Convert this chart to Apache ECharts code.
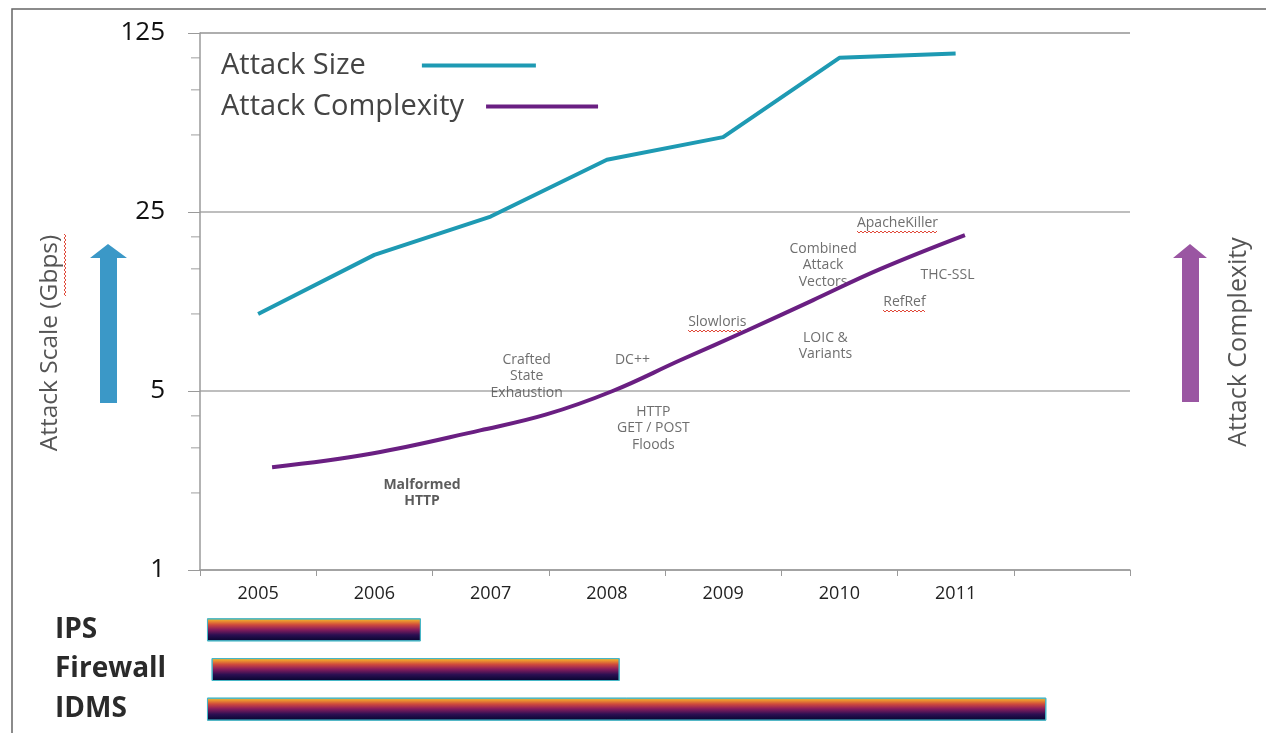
<!DOCTYPE html>
<html>
<head>
<meta charset="utf-8">
<title>Attack Size and Complexity</title>
<script src="https://cdn.jsdelivr.net/npm/echarts@6/dist/echarts.min.js"></script>
<style>
  html, body { margin: 0; padding: 0; background: #ffffff; }
  #chart { width: 1266px; height: 733px; }
</style>
</head>
<body>
<div id="chart"></div>
<script>
// Years on the category axis (last band is left empty)
const years = ['2005', '2006', '2007', '2008', '2009', '2010', '2011', ''];
// Attack size per year, Gbps
const attackSizeGbps = [10, 17, 24, 40, 49, 100, 104];
// Attack complexity curve, position in years and level on the same log scale
const complexityYear = [2005.12, 2005.98, 2006.91, 2007.48, 2008.05, 2008.63, 2009.21, 2009.77, 2010.35, 2011.08];
const complexityLevel = [2.52, 2.85, 3.51, 4.05, 5.0, 6.59, 8.63, 11.3, 14.95, 20.3];
// Labelled attack techniques along the complexity curve
const attackNames = ['Malformed\nHTTP', 'Crafted\nState\nExhaustion', 'DC++', 'HTTP\nGET / POST\nFloods', 'Slowloris',
  'Combined\nAttack\nVectors', 'LOIC &\nVariants', 'ApacheKiller', 'THC-SSL', 'RefRef'];
const attackYear = [2006.41, 2007.31, 2008.22, 2008.40, 2008.95, 2009.86, 2009.88, 2010.50, 2010.93, 2010.56];
const attackLevel = [2.0, 5.71, 6.59, 3.57, 9.28, 15.5, 7.48, 22.6, 14.2, 11.1];
const misspelledFlags = [false, false, false, false, true, false, false, true, false, true];
// Y axis: major ticks (base 5) and minor ticks
const yTicks = [1, 5, 25, 125];
const yMinorTicks = [2, 3, 4, 10, 15, 20, 50, 75, 100];
// Defence tools and the years they cover
const tools = ['IPS', 'Firewall', 'IDMS'];
const toolStart = [2004.56, 2004.60, 2004.56];
const toolEnd = [2006.40, 2008.11, 2011.78];

const TEAL = '#1e9ab3';
const PURPLE = '#6a1f82';
const FONT = '"Open Sans", Lato, sans-serif';
const X_MIN = 2004.5, X_MAX = 2004.5 + years.length;

const chart = echarts.init(document.getElementById('chart'), null, { renderer: 'canvas' });

const toolGradient = new echarts.graphic.LinearGradient(0, 0, 0, 1, [
  { offset: 0.0, color: '#a6c25a' },
  { offset: 0.1, color: '#ee9a2e' },
  { offset: 0.28, color: '#cf4a3c' },
  { offset: 0.48, color: '#8c1e5c' },
  { offset: 0.72, color: '#2c0f52' },
  { offset: 1.0, color: '#03052e' }
]);

// One legend per series so each sample line sits at its own distance from the text
function legendFor(name, top, gap, iconWidth) {
  return {
    data: [name], left: 216, top: top, orient: 'vertical', align: 'right',
    icon: 'rect', itemWidth: iconWidth, itemHeight: 4, selectedMode: false,
    textStyle: { color: '#444', fontFamily: FONT, fontSize: 29, padding: [0, gap, 0, 0] }
  };
}

const option = {
  backgroundColor: '#ffffff',
  animation: false,
  textStyle: { fontFamily: FONT },
  grid: [
    { left: 200, right: 136, top: 33, bottom: 163, containLabel: false },
    { left: 200, right: 136, top: 610, bottom: 4, containLabel: false }
  ],
  legend: [
    legendFor('Attack Size', 46, 51, 114),
    legendFor('Attack Complexity', 87, 17, 112)
  ],
  xAxis: [
    {
      type: 'category', gridIndex: 0, data: years, boundaryGap: true,
      axisLine: { lineStyle: { color: '#9a9a9a', width: 1.5 } },
      axisTick: { show: true, interval: 0, length: 6, lineStyle: { color: '#9a9a9a' } },
      axisLabel: { fontSize: 18, color: '#222', margin: 15, fontFamily: FONT },
      splitLine: { show: false }
    },
    { type: 'value', gridIndex: 0, min: X_MIN, max: X_MAX, show: false },
    { type: 'value', gridIndex: 1, min: X_MIN, max: X_MAX, show: false }
  ],
  yAxis: [
    {
      type: 'log', logBase: 5, gridIndex: 0, min: yTicks[0], max: yTicks[yTicks.length - 1], interval: 1,
      axisLine: { show: true, lineStyle: { color: '#9a9a9a', width: 1.5 } },
      axisTick: { show: true, length: 12, lineStyle: { color: '#9a9a9a' } },
      axisLabel: { fontSize: 26, color: '#111', margin: 35, fontFamily: FONT },
      splitLine: { show: true, lineStyle: { color: '#a8a8a8', width: 1.5 } }
    },
    {
      type: 'category', gridIndex: 1, data: tools, inverse: true,
      axisLine: { show: false }, axisTick: { show: false },
      axisLabel: {
        fontSize: 28, fontWeight: 'bold', color: '#2a2a2a', align: 'left', margin: 145, fontFamily: FONT
      }
    }
  ],
  series: [
    {
      name: 'Attack Size', type: 'line', xAxisIndex: 0, yAxisIndex: 0,
      data: attackSizeGbps, symbol: 'none', smooth: false,
      lineStyle: { color: TEAL, width: 4 }, itemStyle: { color: TEAL }
    },
    {
      name: 'Attack Complexity', type: 'line', xAxisIndex: 1, yAxisIndex: 0,
      data: complexityYear.map((x, i) => [x, complexityLevel[i]]),
      symbol: 'none', smooth: 0.4,
      lineStyle: { color: PURPLE, width: 4 }, itemStyle: { color: PURPLE }
    },
    {
      name: 'minor ticks', type: 'scatter', xAxisIndex: 1, yAxisIndex: 0, clip: false, silent: true,
      data: yMinorTicks.map(v => [X_MIN, v]),
      symbol: 'rect', symbolSize: [9, 1.2], symbolOffset: [-4.5, 0],
      itemStyle: { color: '#9a9a9a' }
    },
    {
      name: 'attacks', type: 'scatter', xAxisIndex: 1, yAxisIndex: 0, clip: false, silent: true,
      data: attackNames.map((n, i) => ({
        value: [attackYear[i], attackLevel[i]],
        name: n,
        label: {
          fontWeight: i === 0 ? 'bold' : 'normal',
          color: i === 0 ? '#333' : '#4a4a4a'
        }
      })),
      symbolSize: 0,
      label: {
        show: true, position: 'inside', formatter: p => p.name,
        fontSize: 14, lineHeight: 16.5, align: 'center', verticalAlign: 'middle',
        color: '#4a4a4a', fontFamily: FONT
      }
    },
    {
      name: 'tool start', type: 'bar', xAxisIndex: 2, yAxisIndex: 1, stack: 'tools',
      data: toolStart, barWidth: 23, silent: true,
      itemStyle: { color: 'rgba(0,0,0,0)' }
    },
    {
      name: 'tool coverage', type: 'bar', xAxisIndex: 2, yAxisIndex: 1, stack: 'tools',
      data: toolEnd.map((e, i) => e - toolStart[i]), barWidth: 23, silent: true,
      itemStyle: { color: toolGradient, borderColor: '#45b6c6', borderWidth: 1 }
    }
  ]
};

chart.setOption(option);

// Decorations: frame, side arrows, side titles, spell-check squiggles
function zigzag(x0, x1, y) {
  const pts = [];
  let up = true;
  for (let x = x0; x <= x1; x += 2) { pts.push([x, up ? y : y + 2]); up = !up; }
  return pts;
}
function zigzagVertical(y0, y1, x) {
  const pts = [];
  let left = true;
  for (let y = y0; y <= y1; y += 2) { pts.push([left ? x : x + 2, y]); left = !left; }
  return pts;
}

const measureCtx = document.createElement('canvas').getContext('2d');
measureCtx.font = '14px ' + FONT;

const decorations = [
  {
    type: 'rect', shape: { x: 12, y: 9, width: 1270, height: 740 },
    style: { fill: 'none', stroke: '#666', lineWidth: 1.5 }, silent: true
  },
  {
    type: 'polygon',
    shape: { points: [[108, 244], [127, 258], [117, 258], [117, 403], [100, 403], [100, 258], [90, 258]] },
    style: { fill: '#3b98c7' }, silent: true
  },
  {
    type: 'polygon',
    shape: { points: [[1190, 244], [1207, 258], [1199, 258], [1199, 402], [1182, 402], [1182, 258], [1173, 258]] },
    style: { fill: '#9a56a2' }, silent: true
  },
  {
    type: 'text', x: 50, y: 343, rotation: Math.PI / 2,
    style: { text: 'Attack Scale (Gbps)', font: '24.5px ' + FONT, fill: '#555', align: 'center', verticalAlign: 'middle' },
    silent: true
  },
  {
    type: 'text', x: 1239, y: 342, rotation: Math.PI / 2,
    style: { text: 'Attack Complexity', font: '25px ' + FONT, fill: '#555', align: 'center', verticalAlign: 'middle' },
    silent: true
  },
  {
    type: 'polyline', shape: { points: zigzagVertical(234, 296, 64) },
    style: { stroke: '#e04a3a', lineWidth: 1, fill: 'none' }, silent: true
  }
];

attackNames.forEach((n, i) => {
  if (!misspelledFlags[i]) return;
  const c = chart.convertToPixel({ xAxisIndex: 1, yAxisIndex: 0 }, [attackYear[i], attackLevel[i]]);
  const w = measureCtx.measureText(n).width;
  decorations.push({
    type: 'polyline', shape: { points: zigzag(Math.round(c[0] - w / 2), Math.round(c[0] + w / 2), Math.round(c[1] + 8)) },
    style: { stroke: '#e04a3a', lineWidth: 1, fill: 'none' }, silent: true
  });
});

chart.setOption({ graphic: decorations });
</script>
</body>
</html>
